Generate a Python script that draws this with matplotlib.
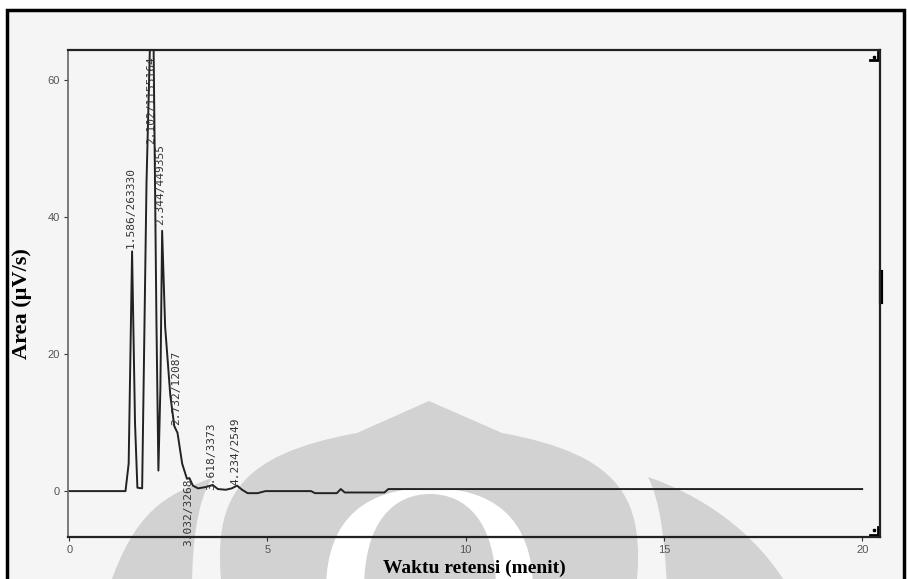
import matplotlib.pyplot as plt
from matplotlib.patches import Rectangle, PathPatch
from matplotlib.path import Path

# chromatogram trace (retention time in minutes, detector signal)
ret_time = [0.0, 1.42, 1.50, 1.586, 1.66, 1.72, 1.84, 1.95, 2.102, 2.20, 2.25,
            2.30, 2.344, 2.42, 2.55, 2.65, 2.732, 2.85, 2.97, 3.032, 3.12,
            3.25, 3.45, 3.618, 3.75, 3.95, 4.10, 4.234, 4.36, 4.50, 4.75,
            4.95, 6.10, 6.20, 6.75, 6.85, 6.95, 7.95, 8.05, 20.0]
signal = [0.0, 0.0, 4.0, 35.0, 10.0, 0.5, 0.4, 45.0, 80.0, 25.0, 3.0,
          15.0, 38.0, 24.0, 14.0, 9.5, 8.5, 4.0, 1.8, 1.9, 0.8,
          0.4, 0.6, 0.9, 0.3, 0.2, 0.4, 0.8, 0.2, -0.3, -0.3,
          0.0, 0.0, -0.3, -0.3, 0.3, -0.2, -0.2, 0.3, 0.3]

# integrated peaks: retention time / area
peak_times = [1.586, 2.102, 2.344, 2.732, 3.032, 3.618, 4.234]
peak_areas = [263330, 1155164, 449355, 12087, 3268, 3373, 2549]
label_y = [35.5, 63.5, 38.8, 9.6, 1.9, 0.1, 0.9]
label_va = ['bottom', 'top', 'bottom', 'bottom', 'top', 'bottom', 'bottom']

x_ticks = [0, 5, 10, 15, 20]
y_ticks = [0, 20, 40, 60]


def shape(start, segs):
    verts = [start]
    codes = [Path.MOVETO]
    for s in segs:
        if len(s) == 3:
            verts += list(s)
            codes += [Path.CURVE4] * 3
        else:
            verts.append(s[0])
            codes.append(Path.LINETO)
    verts.append(start)
    codes.append(Path.CLOSEPOLY)
    return Path(verts, codes)


fig = plt.figure(figsize=(9.07, 5.79), dpi=100, facecolor='white')

# page background, border and logo watermark (pixel coordinates)
bg = fig.add_axes([0, 0, 1, 1], zorder=0)
bg.set_xlim(0, 907)
bg.set_ylim(579, 0)
bg.axis('off')
bg.add_patch(Rectangle((7, 10), 897, 600, facecolor='#f5f5f5', edgecolor='black', lw=2.5))

grey = '#d2d2d2'
dome = shape((222, 590), [((212, 500), (235, 455), (357, 433)), ((429, 401),),
                          ((502, 433),), ((623, 455), (646, 500), (636, 590))])
arch = shape((326, 590), [((326, 515), (370, 488), (430, 488)),
                          ((490, 488), (533, 515), (533, 590))])
core = shape((364, 590), [((364, 520), (395, 494), (430, 494)),
                          ((465, 494), (496, 520), (496, 590))])
left_moon = shape((212, 478), [((165, 495), (135, 510), (108, 590)), ((192, 590),),
                               ((192, 540), (198, 500), (212, 478))])
right_moon = shape((648, 477), [((700, 495), (755, 530), (790, 590)), ((667, 590),),
                                ((665, 540), (660, 500), (648, 477))])
for p, c in [(dome, grey), (arch, 'white'), (core, grey), (left_moon, grey), (right_moon, grey)]:
    bg.add_patch(PathPatch(p, facecolor=c, edgecolor='none'))

ax = fig.add_axes([68 / 907, 1 - 537 / 579, (880 - 68) / 907, (537 - 50) / 579], zorder=1)
ax.patch.set_alpha(0)

ax.plot(ret_time, signal, color='#222222', lw=1.4)

for t, a, y, va in zip(peak_times, peak_areas, label_y, label_va):
    ax.text(t - 0.04, y, f'{t:.3f}/{a}', rotation=90, ha='center', va=va,
            fontsize=8, family='DejaVu Sans Mono', color='#333333', clip_on=False)

ax.set_xlim(-0.03, 20.45)
ax.set_ylim(-6.7, 64.4)
ax.set_xticks(x_ticks)
ax.set_yticks(y_ticks)
ax.tick_params(axis='both', labelsize=8, labelcolor='#555555', color='#333333',
               length=3, width=0.8, pad=3)
for lbl in ax.get_xticklabels() + ax.get_yticklabels():
    lbl.set_family('Liberation Sans')

for side in ['top', 'right', 'bottom']:
    ax.spines[side].set_color('#222222')
    ax.spines[side].set_linewidth(1.6)
ax.spines['left'].set_color('#666666')
ax.spines['left'].set_linewidth(1.2)

ax.set_ylabel('Area (µV/s)', fontsize=16, family='Liberation Serif', fontweight='bold')
ax.yaxis.set_label_coords(-0.044, 0.48)
ax.set_xlabel('Waktu retensi (menit)', fontsize=14, family='Liberation Serif',
              fontweight='bold', labelpad=3)

# scroll markers on the right side of the plot frame
ax.plot([870, 878, 878], [60, 60, 52], transform=bg.transData, color='black', lw=2, clip_on=False)
ax.plot([870, 878, 878], [535, 535, 527], transform=bg.transData, color='black', lw=2, clip_on=False)
ax.plot([874], [57], 's', ms=2, color='black', transform=bg.transData, clip_on=False)
ax.plot([874], [530], 's', ms=2, color='black', transform=bg.transData, clip_on=False)
ax.plot([881, 881], [272, 302], transform=bg.transData, color='black', lw=3, clip_on=False)

fig.savefig('out.png', dpi=100, facecolor='white')
